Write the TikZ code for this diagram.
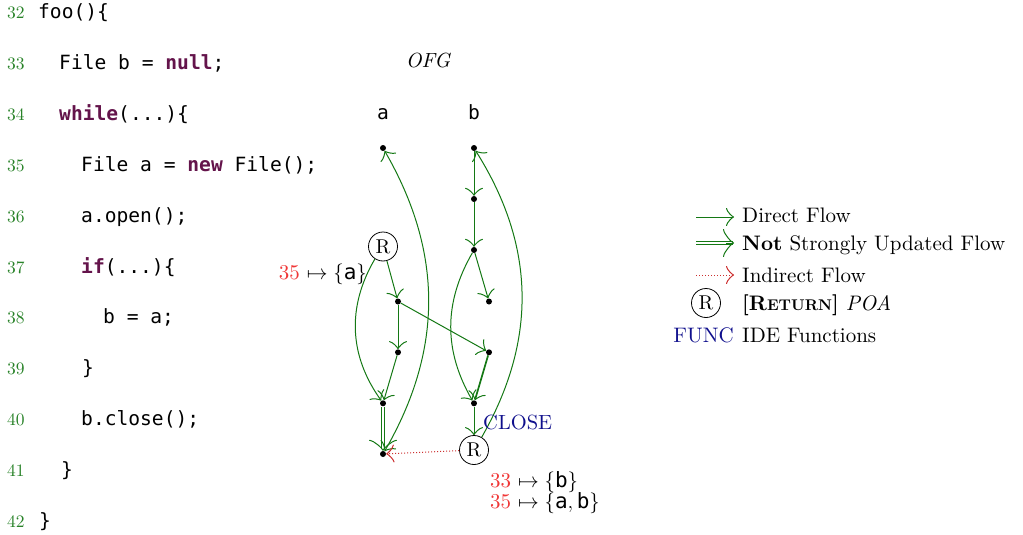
\documentclass[tikz,border=0pt]{standalone}
\usepackage{fontspec}
\setmainfont{lmroman10-regular}[Extension=.otf,BoldFont=lmroman10-bold,ItalicFont=lmroman10-italic,BoldItalicFont=lmroman10-bolditalic]
\setmonofont{DejaVu Sans Mono}
\usetikzlibrary{arrows.meta}
\definecolor{edgegreen}{RGB}{20,120,20}
\definecolor{numgreen}{RGB}{40,130,40}
\definecolor{kwcol}{RGB}{100,20,75}
\definecolor{redlbl}{RGB}{240,55,55}
\definecolor{funcblue}{RGB}{15,15,140}
\newcommand{\kwd}[1]{\textcolor{kwcol}{\textbf{#1}}}
\newcommand{\codefnt}{\fontsize{19.6}{22}\selectfont\ttfamily}
\newcommand{\serfnt}{\fontsize{21}{24}\selectfont}
\tikzset{
  codeline/.style={anchor=base west,inner sep=0pt,font=\codefnt},
  lineno/.style={anchor=base west,inner sep=0pt,text=numgreen,font=\fontsize{17.5}{20}\selectfont},
  legtext/.style={anchor=base west,inner sep=0pt,font=\serfnt},
  dot/.style={circle,fill=black,inner sep=0pt,minimum size=6pt},
  retnode/.style={circle,draw=black,line width=0.8pt,inner sep=0pt,minimum size=29pt,font=\fontsize{20}{20}\selectfont},
  tip/.tip={Classical TikZ Rightarrow[length=8pt,width=18pt,line width=1pt]},
  bigtip/.tip={Classical TikZ Rightarrow[length=11pt,width=28pt,line width=1pt]},
  flow/.style={draw=edgegreen,line width=1pt,-tip},
  nsflow/.style={draw=edgegreen,double,double distance=2.2pt,line width=0.8pt,shorten >=1.5pt},
  nstip/.style={draw=edgegreen,line width=1pt,-bigtip},
  indirect/.style={draw=redlbl!85!black,dotted,line width=1pt,-tip}
}
\begin{document}
\begin{tikzpicture}[x=1pt,y=-1pt]
\path[use as bounding box] (0,0) rectangle (1023,535);
% code listing
\node[lineno] (n32) at (7,19) {32};
\node[codeline] (c32) at (38,19) {foo()\{};
\node[lineno] (n33) at (7,69.8) {33};
\node[codeline] (c33) at (59,69.8) {File b = \kwd{null};};
\node[lineno] (n34) at (7,120.6) {34};
\node[codeline] (c34) at (59,120.6) {\kwd{while}(...)\{};
\node[lineno] (n35) at (7,171.4) {35};
\node[codeline] (c35) at (81,171.4) {File a = \kwd{new} File();};
\node[lineno] (n36) at (7,222.2) {36};
\node[codeline] (c36) at (81,222.2) {a.open();};
\node[lineno] (n37) at (7,273) {37};
\node[codeline] (c37) at (81,273) {\kwd{if}(...)\{};
\node[lineno] (n38) at (7,323.8) {38};
\node[codeline] (c38) at (103,323.8) {b = a;};
\node[lineno] (n39) at (7,374.6) {39};
\node[codeline] (c39) at (82,374.6) {\}};
\node[lineno] (n40) at (7,425.4) {40};
\node[codeline] (c40) at (81,425.4) {b.close();};
\node[lineno] (n41) at (7,476.2) {41};
\node[codeline] (c41) at (61,476.2) {\}};
\node[lineno] (n42) at (7,527) {42};
\node[codeline] (c42) at (39,527) {\}};
% OFG
\node[anchor=base,inner sep=0pt,font=\fontsize{20.5}{24}\selectfont\itshape] (ofg) at (428,68) {OFG};
\node[anchor=base,inner sep=0pt,font=\codefnt] (la) at (383,119) {a};
\node[anchor=base,inner sep=0pt,font=\codefnt] (lb) at (474,119) {b};
\node[dot] (a1) at (383,148) {};
\node[dot] (b1) at (474,148) {};
\node[dot] (b2) at (474,199) {};
\node[dot] (b3) at (474,250) {};
\node[retnode] (Ra) at (383,246.5) {R};
\node[dot] (a2) at (398,301.5) {};
\node[dot] (b4) at (489,301.5) {};
\node[dot] (a3) at (398,352.3) {};
\node[dot] (b5) at (489,352.3) {};
\node[dot] (a4) at (383,403.3) {};
\node[dot] (b6) at (474,403.3) {};
\node[dot] (a5) at (383,454) {};
\node[retnode] (Rb) at (474,450) {R};
% edges
\draw[flow] (b1) -- (b2);
\draw[flow] (b2) -- (b3);
\draw[flow] (b3) -- (b4);
\draw[flow] (b3) to[bend right=30] (b6);
\draw[flow] (Ra) -- (a2);
\draw[flow] (Ra) to[bend right=33] (a4);
\draw[flow] (a2) -- (a3);
\draw[flow] (a2) -- (b5);
\draw[flow] (a3) -- (a4);
\draw[flow,line width=1.7pt] (b5) -- (b6);
\draw[nsflow] (a4) -- (a5);
\draw[nstip,shorten <=42pt] (a4) -- (a5);
\draw[flow,tip-tip] (a5) to[bend right=30] (a1);
\draw[flow] (Rb) to[bend right=31] (b1);
\draw[flow] (b6) -- (Rb);
\draw[indirect] (Rb) -- (a5);
% labels
\node[anchor=base east,inner sep=0pt,font=\serfnt] (lblA) at (367,279) {\textcolor{redlbl}{35} $\mapsto \{\texttt{a}\}$};
\node[anchor=base west,inner sep=0pt,font=\fontsize{20.5}{24}\selectfont,text=funcblue] (close) at (483,429) {CLOSE};
\node[anchor=base west,inner sep=0pt,font=\serfnt] (lblB1) at (490,487) {\textcolor{redlbl}{33} $\mapsto \{\texttt{b}\}$};
\node[anchor=base west,inner sep=0pt,font=\serfnt] (lblB2) at (490,508) {\textcolor{redlbl}{35} $\mapsto \{\texttt{a},\texttt{b}\}$};
% legend
\coordinate (l1s) at (696,217); \coordinate (l1e) at (734,217);
\coordinate (l2s) at (696,243); \coordinate (l2e) at (734,243);
\coordinate (l2m) at (726,243);
\coordinate (l3s) at (696,275); \coordinate (l3e) at (734,275);
\draw[flow] (l1s) -- (l1e);
\draw[nsflow] (l2s) -- (l2e);
\draw[nstip] (l2m) -- (l2e);
\draw[indirect] (l3s) -- (l3e);
\node[retnode] (legR) at (706,303) {R};
\node[anchor=base east,inner sep=0pt,font=\serfnt,text=funcblue] (func) at (734,342) {FUNC};
\node[legtext] (t1) at (742,222) {Direct Flow};
\node[legtext] (t2) at (742,250) {\textbf{Not} Strongly Updated Flow};
\node[legtext] (t3) at (742,282) {Indirect Flow};
\node[legtext] (t4) at (742,310) {\textbf{[R{\fontsize{15.5}{18}\selectfont ETURN}]} \textit{POA}};
\node[legtext] (t5) at (742,342) {IDE Functions};
\end{tikzpicture}
\end{document}
